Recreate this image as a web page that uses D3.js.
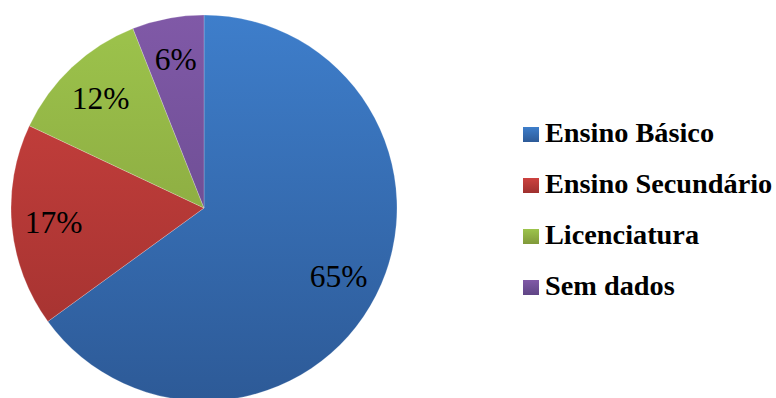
<!DOCTYPE html>
<html>
<head>
<meta charset="utf-8">
<script src="https://cdn.jsdelivr.net/npm/d3@7"></script>
<style>
  html, body { margin: 0; padding: 0; background: #fff; }
  svg { display: block; }
</style>
</head>
<body>
<svg id="chart" width="776" height="398"></svg>
<script>
// Education level distribution
const categories = ["Ensino Básico", "Ensino Secundário", "Licenciatura", "Sem dados"];
const values = [65, 17, 12, 6];
const labels = ["65%", "17%", "12%", "6%"];

// Top / bottom shades of each slice's vertical gradient
const topColors = ["#3e7ecb", "#cd423f", "#9dc44c", "#8059a7"];
const bottomColors = ["#2d5a97", "#9e302e", "#80993a", "#5f4585"];

const serif = '"Liberation Serif"';

const svg = d3.select("#chart");
const cx = 204, cy = 208, R = 193;

const defs = svg.append("defs");
categories.forEach((c, i) => {
  const g = defs.append("linearGradient")
    .attr("id", "grad" + i)
    .attr("gradientUnits", "userSpaceOnUse")
    .attr("x1", 0).attr("y1", -R).attr("x2", 0).attr("y2", R);
  g.append("stop").attr("offset", "0%").attr("stop-color", topColors[i]);
  g.append("stop").attr("offset", "100%").attr("stop-color", bottomColors[i]);

  const lg = defs.append("linearGradient")
    .attr("id", "legGrad" + i)
    .attr("x1", 0).attr("y1", 0).attr("x2", 0).attr("y2", 1);
  lg.append("stop").attr("offset", "0%").attr("stop-color", topColors[i]);
  lg.append("stop").attr("offset", "100%").attr("stop-color", bottomColors[i]);
});

const data = categories.map((c, i) => ({ name: c, value: values[i], label: labels[i], i }));

const pie = d3.pie().value(d => d.value).sort(null);
const arcs = pie(data);
const arc = d3.arc().innerRadius(0).outerRadius(R);
const labelArc = d3.arc().innerRadius(151).outerRadius(151);

const g = svg.append("g").attr("transform", `translate(${cx},${cy})`);

g.selectAll("path.slice")
  .data(arcs)
  .join("path")
  .attr("class", "slice")
  .attr("d", arc)
  .attr("fill", d => `url(#grad${d.data.i})`)
  .attr("stroke", "rgba(255,255,255,0.35)")
  .attr("stroke-width", 0.6);

g.selectAll("text.pct")
  .data(arcs)
  .join("text")
  .attr("class", "pct")
  .attr("transform", d => `translate(${labelArc.centroid(d)})`)
  .attr("text-anchor", "middle")
  .attr("dy", "0.34em")
  .style("font-family", serif)
  .style("font-size", "31.5px")
  .attr("fill", "#000")
  .text(d => d.data.label);

// Legend
const legend = svg.append("g").attr("transform", "translate(523,0)");
const rowY = d3.scalePoint().domain(categories).range([142, 295]);

const item = legend.selectAll("g.item")
  .data(data)
  .join("g")
  .attr("class", "item")
  .attr("transform", d => `translate(0,${rowY(d.name)})`);

item.append("rect")
  .attr("x", 0).attr("y", -15)
  .attr("width", 16).attr("height", 15)
  .attr("fill", d => `url(#legGrad${d.i})`);

item.append("text")
  .attr("x", 22)
  .attr("y", 0)
  .style("font-family", serif)
  .style("font-weight", "bold")
  .style("font-size", "28.3px")
  .attr("fill", "#000")
  .text(d => d.name);
</script>
</body>
</html>
